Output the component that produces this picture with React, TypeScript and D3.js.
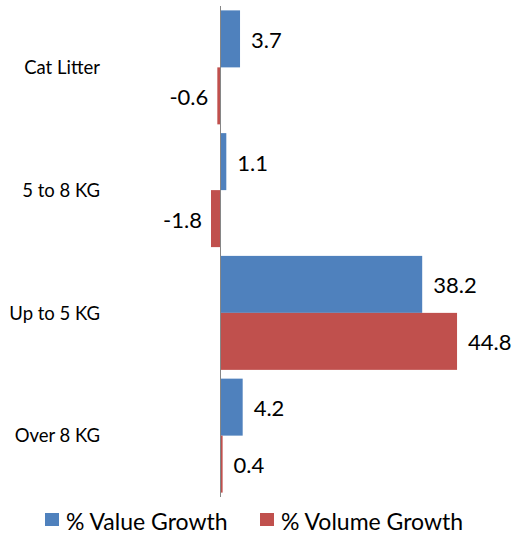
import React from "react";
import * as d3 from "d3";

// Growth by pack size, in percent
const categories = ["Cat Litter", "5 to 8 KG", "Up to 5 KG", "Over 8 KG"];
const valueGrowth = [3.7, 1.1, 38.2, 4.2];
const volumeGrowth = [-0.6, -1.8, 44.8, 0.4];
const seriesNames = ["% Value Growth", "% Volume Growth"];
const seriesColors = ["#4F81BD", "#C0504D"];

const W = 520;
const H = 540;
const FONT = "Lato, 'Open Sans', sans-serif";

export default function App() {
  const x = d3.scaleLinear().domain([-5, 50]).range([194.1, 484.5]);
  const y = d3.scaleBand<string>().domain(categories).range([6, 497]).padding(0);
  const inner = d3
    .scaleBand<string>()
    .domain(seriesNames)
    .range([0, y.bandwidth()])
    .paddingInner(0)
    .paddingOuter(0.077);

  const series = [valueGrowth, volumeGrowth];
  const x0 = x(0);

  return (
    <div style={{ position: "fixed", left: 0, top: 0 }}>
      <svg width={W} height={H} style={{ display: "block", background: "#fff" }}>
        {/* bars */}
        {series.map((vals, si) =>
          vals.map((v, ci) => {
            const by = (y(categories[ci]) ?? 0) + (inner(seriesNames[si]) ?? 0);
            const left = Math.min(x(v), x0);
            const w = Math.abs(x(v) - x0);
            return (
              <rect
                key={`b${si}-${ci}`}
                x={left}
                y={by}
                width={w}
                height={inner.bandwidth()}
                fill={seriesColors[si]}
              />
            );
          })
        )}
        {/* vertical zero axis */}
        <line x1={x0} x2={x0} y1={6} y2={497} stroke="#868686" strokeWidth={1} />
        {/* value labels */}
        {series.map((vals, si) =>
          vals.map((v, ci) => {
            const cy =
              (y(categories[ci]) ?? 0) + (inner(seriesNames[si]) ?? 0) + inner.bandwidth() / 2;
            const pos = v >= 0;
            return (
              <text
                key={`l${si}-${ci}`}
                x={pos ? x(v) + 11 : x(v) - 9}
                y={cy + 1}
                dy="0.36em"
                textAnchor={pos ? "start" : "end"}
                fontFamily={FONT}
                fontSize={22}
                fill="#000"
              >
                {v.toFixed(1)}
              </text>
            );
          })
        )}
        {/* category labels */}
        {categories.map((c) => (
          <text
            key={c}
            x={100}
            y={(y(c) ?? 0) + y.bandwidth() / 2}
            dy="0.36em"
            textAnchor="end"
            fontFamily={FONT}
            fontSize={18.5}
            fill="#000"
          >
            {c}
          </text>
        ))}
        {/* legend */}
        {seriesNames.map((s, i) => {
          const lx = [45, 260][i];
          return (
            <g key={s}>
              <rect x={lx} y={513} width={14} height={13} fill={seriesColors[i]} />
              <text
                x={lx + 21}
                y={521.5}
                dy="0.36em"
                fontFamily={FONT}
                fontSize={23}
                fill="#000"
              >
                {s}
              </text>
            </g>
          );
        })}
      </svg>
    </div>
  );
}
